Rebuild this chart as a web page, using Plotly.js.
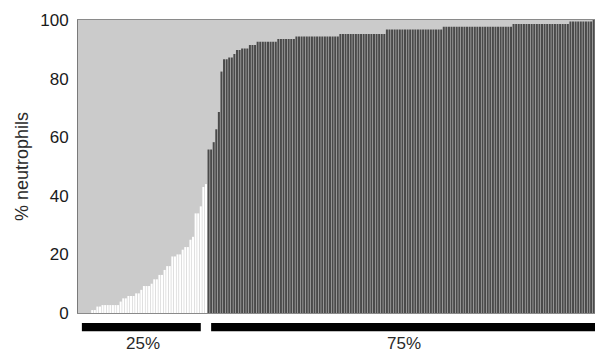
<!DOCTYPE html>
<html>
<head>
<meta charset="utf-8">
<script src="https://cdn.plot.ly/plotly-3.0.1.min.js"></script>
<style>html,body{margin:0;padding:0;background:#fff;}#chart{width:595px;height:354px;}</style>
</head>
<body>
<div id="chart"></div>
<script>
// % neutrophils per sample, sorted ascending (low group = 25%, high group = 75%)
var lowValues = [
  0, 0, 0, 0, 0,
  1, 1, 2.2, 2.2,
  2.7, 2.7, 2.7, 2.7, 2.7, 2.7, 2.7,
  3.9, 5, 5, 5.8, 5.8, 5.8, 6.7, 6.7, 7.9,
  9.2, 9.2, 9.2, 10, 11.5, 11.5, 13, 13, 14.7, 16, 16,
  19.3, 19.3, 20, 20, 21.6, 22.5, 22.5, 25, 26,
  34, 34, 36.4, 43, 44
];
var highValues = [
  55.8, 55.8, 58.3, 62.7, 68.6, 82.4, 86.6, 86.6, 87.2, 87.2,
  88.4, 89.8, 89.8, 90.3, 90.3, 90.3, 91.5, 91.5, 91.5,
  92.6, 92.6, 92.6, 92.6, 92.6, 92.6, 92.6, 92.6,
  93.5, 93.5, 93.5, 93.5, 93.5, 93.5, 93.5,
  94.4, 94.4, 94.4, 94.4, 94.4, 94.4, 94.4, 94.4, 94.4, 94.4, 94.4, 94.4, 94.4, 94.4, 94.4, 94.4, 94.4,
  95.2, 95.2, 95.2, 95.2, 95.2, 95.2, 95.2, 95.2, 95.2, 95.2, 95.2, 95.2, 95.2, 95.2, 95.2, 95.2, 95.2, 95.2,
  96.8, 96.8, 96.8, 96.8, 96.8, 96.8, 96.8, 96.8, 96.8, 96.8, 96.8, 96.8, 96.8, 96.8, 96.8, 96.8, 96.8, 96.8, 96.8, 96.8, 96.8, 96.8,
  97.7, 97.7, 97.7, 97.7, 97.7, 97.7, 97.7, 97.7, 97.7, 97.7, 97.7, 97.7, 97.7, 97.7, 97.7, 97.7, 97.7, 97.7, 97.7, 97.7, 97.7, 97.7, 97.7, 97.7, 97.7, 97.7, 97.7,
  98.6, 98.6, 98.6, 98.6, 98.6, 98.6, 98.6, 98.6, 98.6, 98.6, 98.6, 98.6, 98.6, 98.6, 98.6, 98.6, 98.6, 98.6, 98.6, 98.6, 98.6, 98.6,
  99.5, 99.5, 99.5, 99.5, 99.5, 99.5, 99.5, 99.5, 99.5,
  100
];
var groupLabels = ['25%', '75%'];
var yTicks = [0, 20, 40, 60, 80, 100];
var yTitle = '% neutrophils';

var nLow = lowValues.length;
var nHigh = highValues.length;
var xLow = lowValues.map(function (_, i) { return i; });
var xHigh = highValues.map(function (_, i) { return nLow + i; });

var font = 'Arial, "Liberation Sans", sans-serif';

var traces = [
  {type: 'bar', x: xLow, y: lowValues, marker: {color: '#ffffff', line: {width: 0}}, hoverinfo: 'skip'},
  {type: 'bar', x: xHigh, y: highValues, marker: {color: '#4a4a4a', line: {width: 0}}, hoverinfo: 'skip'}
];

var total = nLow + nHigh;
var groups = [
  {x0: 1, x1: nLow - 3, label: groupLabels[0]},
  {x0: nLow + 1, x1: total + 1, label: groupLabels[1]}
];
var shapes = groups.map(function (g) {
  return {type: 'rect', xref: 'x', yref: 'paper', x0: g.x0, x1: g.x1, y0: -0.062, y1: -0.034,
          fillcolor: '#000', line: {width: 0}, layer: 'above'};
});
var annotations = groups.map(function (g) {
  return {xref: 'x', yref: 'paper', x: (g.x0 + Math.min(g.x1, total - 0.5)) / 2 + 0.5, y: -0.104,
          text: g.label, showarrow: false, xanchor: 'center', yanchor: 'middle',
          font: {family: font, size: 17, color: '#2a2a2a'}};
});

var layout = {
  width: 595, height: 354,
  margin: {l: 78, r: 0, t: 20, b: 41},
  paper_bgcolor: '#ffffff',
  plot_bgcolor: '#cbcbcb',
  showlegend: false,
  barmode: 'overlay',
  bargap: 0.22,
  xaxis: {
    range: [-0.5, total - 0.5],
    showticklabels: false, ticks: '', showgrid: false, zeroline: false,
    showline: true, mirror: true, linecolor: '#8a8a8a', linewidth: 1
  },
  yaxis: {
    range: [0, 100], tickvals: yTicks, ticktext: yTicks.map(String),
    ticks: 'outside', ticklen: 5, tickcolor: 'rgba(0,0,0,0)',
    showgrid: false, zeroline: false,
    showline: true, linecolor: '#7a7a7a', linewidth: 1,
    tickfont: {family: font, size: 17, color: '#1a1a1a'},
    title: {text: yTitle, font: {family: font, size: 18, color: '#2a2a2a'}, standoff: 6}
  },
  shapes: shapes,
  annotations: annotations
};

Plotly.newPlot('chart', traces, layout, {staticPlot: true, displayModeBar: false});
</script>
</body>
</html>
